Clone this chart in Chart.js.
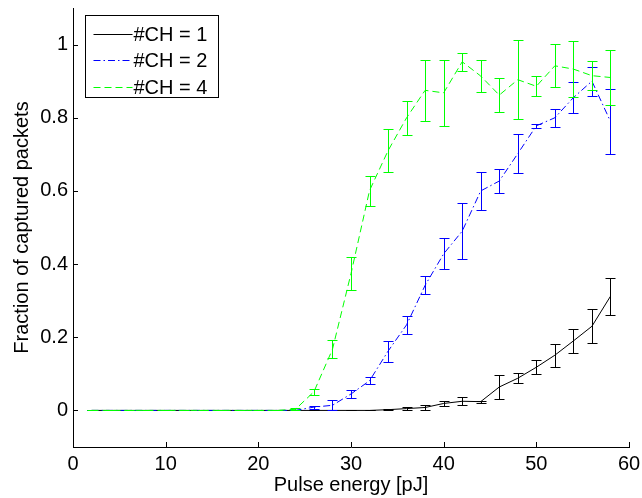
<!DOCTYPE html>
<html>
<head>
<meta charset="utf-8">
<script src="https://cdn.jsdelivr.net/npm/chart.js@4"></script>
<style>
  html, body { margin: 0; padding: 0; background: #fff; }
  #wrap { width: 642px; height: 498px; }
</style>
</head>
<body>
<div id="wrap"><canvas id="chart" width="642" height="498"></canvas></div>
<script>
// Pulse energy sweep (pJ)
const energies = [2, 4, 6, 8, 10, 12, 14, 16, 18, 20, 22, 24, 26, 28, 30,
                  32, 34, 36, 38, 40, 42, 44, 46, 48, 50, 52, 54, 56, 58];

// Mean fraction of captured packets per channel count
const ch1Mean = [0, 0, 0, 0, 0, 0, 0, 0, 0, 0, 0, 0, 0, 0, 0,
                 0, 0.002, 0.005, 0.008, 0.019, 0.025, 0.024, 0.064, 0.088, 0.118, 0.151, 0.19, 0.23, 0.312];
const ch2Mean = [0, 0, 0, 0, 0, 0, 0, 0, 0, 0, 0, 0, 0.009, 0.014, 0.045,
                 0.081, 0.162, 0.234, 0.342, 0.428, 0.49, 0.60, 0.627, 0.702, 0.778, 0.80, 0.855, 0.90, 0.79];
const ch4Mean = [0, 0, 0, 0, 0, 0, 0, 0, 0, 0, 0, 0.003, 0.051, 0.167, 0.374,
                 0.601, 0.71, 0.80, 0.875, 0.868, 0.953, 0.914, 0.862, 0.904, 0.886, 0.942, 0.933, 0.915, 0.91];

// Standard deviation (half-length of the error bars)
const ch1Err = [0, 0, 0, 0, 0, 0, 0, 0, 0, 0, 0, 0, 0, 0, 0,
                0, 0.002, 0.004, 0.006, 0.006, 0.011, 0.003, 0.032, 0.013, 0.019, 0.031, 0.033, 0.047, 0.05];
const ch2Err = [0, 0, 0, 0, 0, 0, 0, 0, 0, 0, 0, 0, 0.004, 0.014, 0.011,
                0.01, 0.029, 0.024, 0.025, 0.042, 0.076, 0.052, 0.033, 0.053, 0.005, 0.025, 0.042, 0.04, 0.089];
const ch4Err = [0, 0, 0, 0, 0, 0, 0, 0, 0, 0, 0, 0.003, 0.008, 0.025, 0.046,
                0.041, 0.058, 0.046, 0.083, 0.09, 0.024, 0.043, 0.047, 0.108, 0.027, 0.059, 0.076, 0.039, 0.076];

const seriesLabels = ['#CH = 1', '#CH = 2', '#CH = 4'];
const xTicks = [0, 10, 20, 30, 40, 50, 60];
const yTicks = [0, 0.2, 0.4, 0.6, 0.8, 1];

const FONT = '"Liberation Sans", Arial, Helvetica, sans-serif';

const toPoints = (ys) => ys.map((y, i) => ({ x: energies[i], y }));

// Vertical error bars with caps, drawn right after each line
const errorBars = {
  id: 'errorBars',
  afterDatasetDraw(chart, args) {
    const ds = chart.data.datasets[args.index];
    if (!ds.errors) return;
    const ctx = chart.ctx, xs = chart.scales.x, ys = chart.scales.y;
    ctx.save();
    ctx.strokeStyle = ds.borderColor;
    ctx.lineWidth = 1;
    ctx.setLineDash([]);
    ds.data.forEach((p, i) => {
      const e = ds.errors[i];
      const px = Math.round(xs.getPixelForValue(p.x)) + 0.5;
      const yt = Math.round(ys.getPixelForValue(p.y + e)) + 0.5;
      const yb = Math.round(ys.getPixelForValue(p.y - e)) + 0.5;
      ctx.beginPath();
      ctx.moveTo(px, yt); ctx.lineTo(px, yb);
      ctx.moveTo(px - 5, yt); ctx.lineTo(px + 5, yt);
      ctx.moveTo(px - 5, yb); ctx.lineTo(px + 5, yb);
      ctx.stroke();
    });
    ctx.restore();
  }
};

// Inward tick marks on the two axes
const innerTicks = {
  id: 'innerTicks',
  afterDraw(chart) {
    const ctx = chart.ctx, a = chart.chartArea;
    const xs = chart.scales.x, ys = chart.scales.y;
    ctx.save();
    ctx.strokeStyle = '#000';
    ctx.lineWidth = 1;
    ctx.beginPath();
    xTicks.forEach(v => {
      const px = Math.round(xs.getPixelForValue(v)) + 0.5;
      ctx.moveTo(px, a.bottom); ctx.lineTo(px, a.bottom - 5);
    });
    yTicks.forEach(v => {
      const py = Math.round(ys.getPixelForValue(v)) + 0.5;
      ctx.moveTo(a.left, py); ctx.lineTo(a.left + 5, py);
    });
    ctx.stroke();
    ctx.restore();
  }
};

// Boxed legend in the upper-left corner of the plot
const boxLegend = {
  id: 'boxLegend',
  afterDraw(chart) {
    const ctx = chart.ctx, a = chart.chartArea;
    const left = Math.round(a.left) + 12.5, top = Math.round(a.top) + 7.5;
    const w = 133, h = 82, rowH = 26.5;
    ctx.save();
    ctx.fillStyle = '#fff';
    ctx.fillRect(left, top, w, h);
    ctx.strokeStyle = '#000';
    ctx.lineWidth = 1;
    ctx.strokeRect(left, top, w, h);
    ctx.font = '20px ' + FONT;
    ctx.textBaseline = 'middle';
    ctx.textAlign = 'left';
    [0, 1, 2].forEach((idx, r) => {
      const ds = chart.data.datasets[idx];
      const y = Math.round(top + 18 + r * rowH) + 0.5;
      ctx.strokeStyle = ds.borderColor;
      ctx.setLineDash(ds.borderDash || []);
      ctx.beginPath();
      ctx.moveTo(left + 8, y); ctx.lineTo(left + 47, y);
      ctx.stroke();
      ctx.setLineDash([]);
      ctx.fillStyle = '#000';
      ctx.fillText(ds.label, left + 48, y + 1);
    });
    ctx.restore();
  }
};

new Chart(document.getElementById('chart'), {
  type: 'line',
  data: {
    datasets: [
      { label: seriesLabels[0], data: toPoints(ch1Mean), errors: ch1Err,
        borderColor: '#000000', borderWidth: 1, borderDash: [], order: 2 },
      { label: seriesLabels[1], data: toPoints(ch2Mean), errors: ch2Err,
        borderColor: '#0000ff', borderWidth: 1, borderDash: [7, 3, 1.5, 3], order: 1 },
      { label: seriesLabels[2], data: toPoints(ch4Mean), errors: ch4Err,
        borderColor: '#00ff00', borderWidth: 1, borderDash: [7, 4], order: 0 }
    ]
  },
  options: {
    responsive: false,
    animation: false,
    devicePixelRatio: 1,
    layout: { padding: { left: 0, top: 8, right: 13, bottom: 0 } },
    elements: {
      point: { radius: 0, hoverRadius: 0 },
      line: { tension: 0, fill: false }
    },
    plugins: {
      legend: { display: false },
      tooltip: { enabled: false }
    },
    scales: {
      x: {
        type: 'linear',
        min: 0, max: 60,
        afterBuildTicks: (s) => { s.ticks = xTicks.map(v => ({ value: v })); },
        afterFit: (s) => { s.height = 51; s.paddingLeft = 0; s.paddingRight = 0; },
        grid: { display: false, drawTicks: false },
        border: { display: true, color: '#000', width: 1 },
        ticks: { color: '#000', padding: 5, maxRotation: 0, autoSkip: false,
                 font: { family: FONT, size: 20 } },
        title: { display: true, text: 'Pulse energy [pJ]', color: '#000',
                 font: { family: FONT, size: 20, lineHeight: 1.2 },
                 padding: { top: 0, bottom: 1 } }
      },
      y: {
        type: 'linear',
        min: -0.1, max: 1.1,
        afterBuildTicks: (s) => { s.ticks = yTicks.map(v => ({ value: v })); },
        afterFit: (s) => { s.width = 73; s.paddingTop = 0; s.paddingBottom = 0; },
        grid: { display: false, drawTicks: false },
        border: { display: true, color: '#000', width: 1 },
        ticks: { color: '#000', padding: 5, autoSkip: false,
                 font: { family: FONT, size: 20 },
                 callback: (v) => String(+Number(v).toFixed(1)) },
        title: { display: true, text: 'Fraction of captured packets', color: '#000',
                 font: { family: FONT, size: 20, lineHeight: 1.2 },
                 padding: { top: 10, bottom: 0 } }
      }
    }
  },
  plugins: [errorBars, innerTicks, boxLegend]
});
</script>
</body>
</html>
